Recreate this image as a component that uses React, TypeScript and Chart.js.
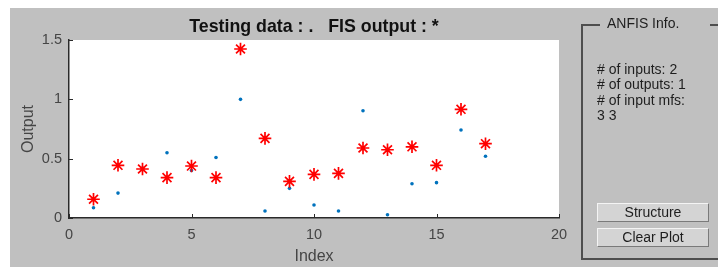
import React, { useEffect, useRef } from "react";
import { Chart, registerables } from "chart.js";

Chart.register(...registerables);

const indices = [1, 2, 3, 4, 5, 6, 7, 8, 9, 10, 11, 12, 13, 14, 15, 16, 17];
const testingData = [0.087, 0.21, 0.42, 0.55, 0.4, 0.51, 1.0, 0.059, 0.25, 0.11, 0.059, 0.904, 0.028, 0.289, 0.298, 0.741, 0.52];
const fisOutput = [0.158, 0.444, 0.413, 0.34, 0.438, 0.34, 1.424, 0.671, 0.309, 0.368, 0.376, 0.59, 0.575, 0.6, 0.444, 0.916, 0.626];
const xTicks = [0, 5, 10, 15, 20];
const yTicks = [0, 0.5, 1, 1.5];
const chartTitle = "Testing data : .   FIS output : *";
const xLabel = "Index";
const yLabel = "Output";
const panelTitle = "ANFIS Info.";
const infoLines = ["# of inputs: 2", "# of outputs: 1", "# of input mfs:", "3 3"];
const buttonLabels = ["Structure", "Clear Plot"];

const FONT = "'Liberation Sans', Arial, Helvetica, sans-serif";
const BG = "#c0c0c0";

const matlabAxes = {
  id: "matlabAxes",
  beforeDraw(chart: any) {
    const { ctx, chartArea } = chart;
    ctx.save();
    ctx.fillStyle = "#ffffff";
    ctx.fillRect(chartArea.left, chartArea.top, chartArea.right - chartArea.left, chartArea.bottom - chartArea.top);
    ctx.restore();
  },
  afterDraw(chart: any) {
    const { ctx, chartArea } = chart;
    const xs = chart.scales.x;
    const ys = chart.scales.y;
    ctx.save();
    ctx.strokeStyle = "#2a2a2a";
    ctx.lineWidth = 1;
    ctx.beginPath();
    for (const v of xTicks) {
      const px = Math.round(xs.getPixelForValue(v)) + 0.5;
      ctx.moveTo(px, chartArea.bottom);
      ctx.lineTo(px, chartArea.bottom - 4);
    }
    for (const v of yTicks) {
      const py = Math.round(ys.getPixelForValue(v)) + 0.5;
      ctx.moveTo(chartArea.left, py);
      ctx.lineTo(chartArea.left + 4, py);
    }
    ctx.stroke();
    ctx.restore();
  },
};

export default function App() {
  const canvasRef = useRef<HTMLCanvasElement | null>(null);

  useEffect(() => {
    if (!canvasRef.current) return;
    const chart = new Chart(canvasRef.current, {
      type: "scatter",
      data: {
        datasets: [
          {
            label: "FIS output",
            data: indices.map((x, i) => ({ x, y: fisOutput[i] })),
            pointStyle: "star",
            radius: 6.3,
            borderColor: "#ff0000",
            backgroundColor: "#ff0000",
            borderWidth: 1.7,
          },
          {
            label: "Testing data",
            data: indices.map((x, i) => ({ x, y: testingData[i] })),
            pointStyle: "circle",
            radius: 1.8,
            borderWidth: 0,
            backgroundColor: "#0072bd",
            borderColor: "#0072bd",
          },
        ],
      },
      options: {
        animation: false,
        responsive: false,
        events: [],
        layout: { padding: 0 },
        plugins: {
          legend: { display: false },
          tooltip: { enabled: false },
          title: {
            display: true,
            text: chartTitle,
            color: "#111111",
            font: { family: FONT, size: 17.8, weight: "bold", lineHeight: 1 },
            padding: { top: 10, bottom: 4.2 },
          },
        },
        scales: {
          x: {
            type: "linear",
            min: 0,
            max: 20,
            afterBuildTicks: (s: any) => {
              s.ticks = xTicks.map((v) => ({ value: v }));
            },
            afterFit: (s: any) => {
              s.height = 49;
            },
            grid: { display: false, drawTicks: false },
            border: { display: true, color: "#2a2a2a", width: 1.5 },
            ticks: {
              color: "#454545",
              padding: 8,
              maxRotation: 0,
              callback: (v: any) => `${v}`,
              font: { family: FONT, size: 14.5 },
            },
            title: {
              display: true,
              text: xLabel,
              color: "#454545",
              font: { family: FONT, size: 16, lineHeight: 1.2 },
              padding: { top: 0, bottom: 1 },
            },
          },
          y: {
            type: "linear",
            position: "left",
            min: 0,
            max: 1.5,
            afterBuildTicks: (s: any) => {
              s.ticks = yTicks.map((v) => ({ value: v }));
            },
            afterFit: (s: any) => {
              s.width = 59;
            },
            grid: { display: false, drawTicks: false },
            border: { display: true, color: "#2a2a2a", width: 1.5 },
            ticks: {
              color: "#454545",
              padding: 7,
              callback: (v: any) => `${v}`,
              font: { family: FONT, size: 14.5 },
            },
            title: {
              display: true,
              text: yLabel,
              color: "#454545",
              font: { family: FONT, size: 16, lineHeight: 1.2 },
              padding: { top: 9, bottom: 0 },
            },
          },
          yRight: {
            type: "linear",
            position: "right",
            min: 0,
            max: 1.5,
            afterFit: (s: any) => {
              s.width = 59;
            },
            grid: { display: false, drawTicks: false },
            border: { display: false },
            ticks: { display: false },
            title: { display: false },
          },
        },
      },
      plugins: [matlabAxes],
    });
    return () => chart.destroy();
  }, []);

  return (
    <div
      style={{
        position: "absolute",
        left: 10,
        top: 8,
        width: 708,
        height: 259,
        background: BG,
        overflow: "hidden",
        fontFamily: FONT,
      }}
    >
      <canvas
        ref={canvasRef}
        width={608}
        height={259}
        style={{ position: "absolute", left: 0, top: 0, width: 608, height: 259 }}
      />
      <div
        style={{
          position: "absolute",
          left: 571,
          top: 16,
          width: 160,
          height: 232,
          border: "2px solid #4e4e4e",
        }}
      />
      <div
        style={{
          position: "absolute",
          left: 590,
          top: 7,
          width: 110,
          height: 16,
          lineHeight: "16px",
          fontSize: 14,
          color: "#1e1e1e",
          background: BG,
          paddingLeft: 7,
          boxSizing: "border-box",
          whiteSpace: "pre",
        }}
      >
        {panelTitle}
      </div>
      <div
        style={{
          position: "absolute",
          left: 587,
          top: 54,
          fontSize: 14,
          lineHeight: "15.3px",
          color: "#1e1e1e",
          whiteSpace: "pre",
        }}
      >
        {infoLines.map((l) => (
          <div key={l}>{l}</div>
        ))}
      </div>
      {buttonLabels.map((b, i) => (
        <div
          key={b}
          style={{
            position: "absolute",
            left: 587,
            top: 195 + i * 25,
            width: 112,
            height: 19,
            boxSizing: "border-box",
            background: "#d4d4d4",
            borderTop: "1px solid #f4f4f4",
            borderLeft: "1px solid #f4f4f4",
            borderBottom: "1px solid #7a7a7a",
            borderRight: "1px solid #7a7a7a",
            fontSize: 14,
            lineHeight: "17px",
            textAlign: "center",
            color: "#1e1e1e",
          }}
        >
          {b}
        </div>
      ))}
    </div>
  );
}
